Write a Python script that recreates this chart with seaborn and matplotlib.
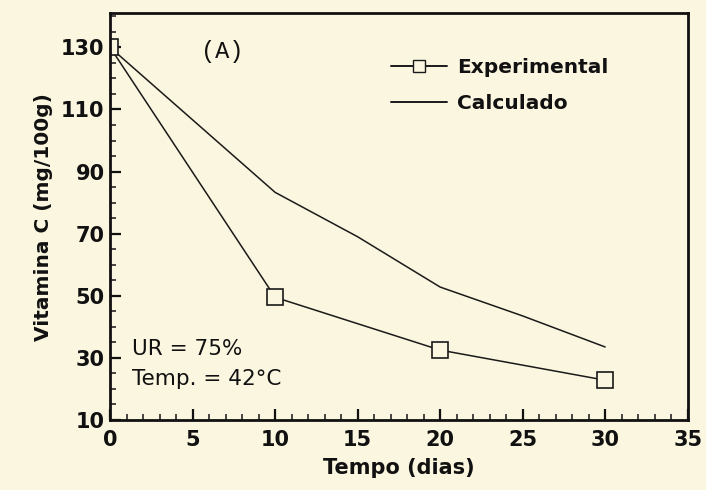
import matplotlib
matplotlib.use("Agg")
import matplotlib.pyplot as plt
from matplotlib.lines import Line2D
from matplotlib.ticker import MultipleLocator
import seaborn as sns
import pandas as pd

# Data
exp_days = [0, 10, 20, 30]
exp_vitc = [130, 49.5, 32.5, 22.8]
calc_days = [0, 10, 15, 20, 25, 30]
calc_vitc = [130, 83.3, 69.0, 52.8, 43.5, 33.5]
x_ticks = [0, 5, 10, 15, 20, 25, 30, 35]
y_ticks = [10, 30, 50, 70, 90, 110, 130]

bg = "#FBF6DF"
sns.set_theme(style="ticks")
plt.rcParams["font.family"] = ["DejaVu Sans"]

fig = plt.figure(figsize=(7.06, 4.90), dpi=100, facecolor=bg)
ax = fig.add_axes([0.156, 0.143, 0.818, 0.830])
ax.set_facecolor(bg)

df_exp = pd.DataFrame({"t": exp_days, "v": exp_vitc})
df_calc = pd.DataFrame({"t": calc_days, "v": calc_vitc})

sns.lineplot(data=df_calc, x="t", y="v", ax=ax, color="#1a1a1a", lw=1.1)
sns.lineplot(data=df_exp, x="t", y="v", ax=ax, color="#1a1a1a", lw=1.1,
             marker="s", markersize=12, markerfacecolor=bg,
             markeredgecolor="#1a1a1a", markeredgewidth=1.2)

ax.set_xlim(0, 35)
ax.set_ylim(10, 141)
ax.set_xticks(x_ticks)
ax.set_yticks(y_ticks)
ax.xaxis.set_minor_locator(MultipleLocator(1))
ax.yaxis.set_minor_locator(MultipleLocator(5))
ax.tick_params(axis="both", which="major", direction="in", length=8, width=1.6,
               labelsize=15, colors="#111111")
ax.tick_params(axis="x", which="major", pad=7)
ax.tick_params(axis="y", which="major", pad=4)
ax.tick_params(axis="both", which="minor", direction="in", length=4, width=1.2)
for lab in ax.get_xticklabels() + ax.get_yticklabels():
    lab.set_fontweight("bold")
for s in ax.spines.values():
    s.set_linewidth(2.0)
    s.set_color("#111111")

ax.set_xlabel("Tempo (dias)", fontsize=15, fontweight="bold", color="#111111", labelpad=6)
ax.set_ylabel("Vitamina C (mg/100g)", fontsize=14.5, fontweight="bold", color="#111111", labelpad=6)

ax.text(6.8, 128.7, "(A)", family="Liberation Mono", fontsize=17, color="#111111",
        ha="center", va="center")
ax.text(1.3, 32.8, "UR = 75%", fontsize=15.5, fontweight="medium", color="#111111", va="center")
ax.text(1.3, 23.2, "Temp. = 42°C", fontsize=15.5, fontweight="medium", color="#111111", va="center")

handles = [
    Line2D([], [], color="#1a1a1a", lw=1.4, marker="s", markersize=8,
           markerfacecolor=bg, markeredgecolor="#1a1a1a"),
    Line2D([], [], color="#1a1a1a", lw=1.4),
]
leg = ax.legend(handles, ["Experimental", "Calculado"], loc="upper left",
                bbox_to_anchor=(0.455, 0.935), frameon=False, handlelength=2.8,
                handletextpad=0.5, labelspacing=0.85,
                prop={"size": 14.5, "weight": "bold"})
for t in leg.get_texts():
    t.set_color("#111111")

fig.savefig("out.png", dpi=100, facecolor=bg)
